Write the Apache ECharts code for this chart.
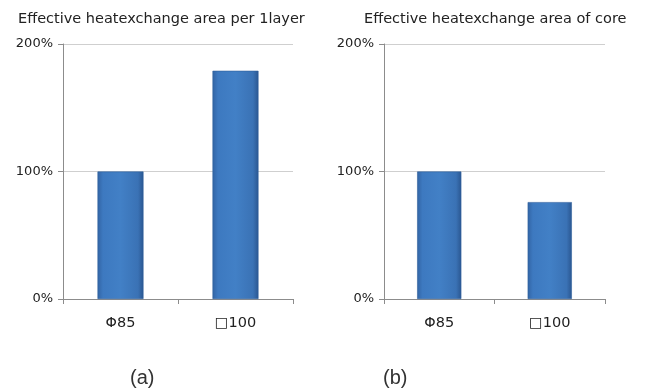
<!DOCTYPE html>
<html>
<head>
<meta charset="utf-8">
<script src="https://cdn.jsdelivr.net/npm/echarts@6/dist/echarts.min.js"></script>
<style>
  html, body { margin: 0; padding: 0; background: #fff; }
  #chart { width: 648px; height: 389px; }
</style>
</head>
<body>
<div id="chart"></div>
<script>
// Relative values, % of the Φ85 design
const categories = ['Φ85', '□100'];
const perLayer = [100, 179];
const perCore = [100, 76];
const yTicks = [0, 100, 200];
const titles = ['Effective heatexchange area per 1layer', 'Effective heatexchange area of core'];
const panelLabels = ['(a)', '(b)'];

const FONT = 'DejaVu Sans';

const barFill = new echarts.graphic.LinearGradient(0, 0, 1, 0, [
  { offset: 0, color: '#3264a4' },
  { offset: 0.12, color: '#3d79c0' },
  { offset: 0.5, color: '#4280c6' },
  { offset: 0.88, color: '#3a72b5' },
  { offset: 1, color: '#2a5690' }
]);

function xAxis(i) {
  return {
    type: 'category', gridIndex: i, data: categories,
    axisLine: { lineStyle: { color: '#8c8c8c', width: 1 } },
    axisTick: { show: true, length: 5, lineStyle: { color: '#8c8c8c' } },
    axisLabel: { color: '#222', fontFamily: FONT, fontSize: 14.5, margin: 17 }
  };
}
function yAxis(i) {
  return {
    type: 'value', gridIndex: i, min: yTicks[0], max: yTicks[yTicks.length - 1], interval: 100,
    axisLine: { show: true, lineStyle: { color: '#8c8c8c', width: 1 } },
    axisTick: { show: true, length: 5, lineStyle: { color: '#8c8c8c' } },
    axisLabel: { color: '#222', fontFamily: FONT, fontSize: 13, margin: 10, formatter: '{value}%' },
    splitLine: { show: true, lineStyle: { color: '#cfcfcf', width: 1 } }
  };
}
function barSeries(i, data) {
  return {
    type: 'bar', xAxisIndex: i, yAxisIndex: i, data: data, barWidth: '40%',
    itemStyle: { color: barFill, borderColor: '#2f5f9c', borderWidth: 0.6 },
    silent: true
  };
}

const titleStyle = { fontFamily: FONT, fontSize: 14.5, fontWeight: 'normal', color: '#222' };
const panelStyle = { fontFamily: 'Liberation Sans', fontSize: 20, fontWeight: 'normal', color: '#333' };

const chart = echarts.init(document.getElementById('chart'), null, { renderer: 'canvas' });
chart.setOption({
  backgroundColor: '#fff',
  animation: false,
  title: [
    { text: titles[0], left: 13, top: 7, textStyle: titleStyle },
    { text: titles[1], left: 359, top: 7, textStyle: titleStyle },
    { text: panelLabels[0], left: 125, top: 363, textStyle: panelStyle },
    { text: panelLabels[1], left: 378, top: 363, textStyle: panelStyle }
  ],
  grid: [
    { left: 63, right: 355, top: 44, bottom: 90 },
    { left: 384, right: 43, top: 44, bottom: 90 }
  ],
  xAxis: [xAxis(0), xAxis(1)],
  yAxis: [yAxis(0), yAxis(1)],
  series: [barSeries(0, perLayer), barSeries(1, perCore)]
});
</script>
</body>
</html>
